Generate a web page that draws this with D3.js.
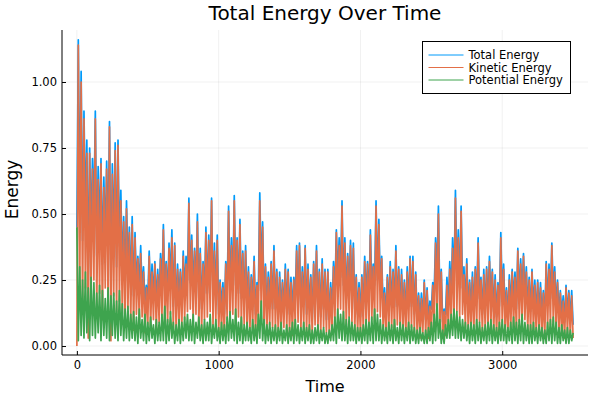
<!DOCTYPE html>
<html>
<head>
<meta charset="utf-8">
<script src="https://cdn.jsdelivr.net/npm/d3@7"></script>
<style>
  body { margin: 0; background: #fff; }
  svg { font-family: "DejaVu Sans", sans-serif; }
</style>
</head>
<body>
<svg id="chart" width="600" height="400"></svg>
<script>
const seriesNames = ["Total Energy", "Kinetic Energy", "Potential Energy"];
const xTicks = [0, 1000, 2000, 3000];
const yTicks = [0, 0.25, 0.5, 0.75, 1.0];

const totalEnergy = [
  0.45,1.16,0.50,1.04,0.40,0.89,0.50,0.78,0.25,0.75,0.44,0.71,0.49,0.89,0.34,0.68,0.43,0.71,0.31,0.64,
  0.40,0.70,0.38,0.85,0.21,0.69,0.39,0.77,0.30,0.78,0.38,0.59,0.28,0.49,0.22,0.55,0.29,0.45,0.22,0.49,
  0.19,0.43,0.23,0.34,0.23,0.38,0.21,0.30,0.17,0.23,0.17,0.36,0.18,0.31,0.18,0.32,0.16,0.29,0.18,0.35,
  0.23,0.46,0.22,0.32,0.19,0.39,0.25,0.44,0.15,0.39,0.13,0.31,0.18,0.29,0.16,0.36,0.21,0.34,0.25,0.56,
  0.24,0.42,0.21,0.37,0.21,0.50,0.18,0.37,0.14,0.32,0.20,0.45,0.20,0.42,0.25,0.56,0.16,0.39,0.19,0.42,
  0.12,0.25,0.15,0.24,0.12,0.32,0.21,0.53,0.21,0.41,0.22,0.57,0.23,0.41,0.20,0.48,0.18,0.36,0.16,0.38,
  0.15,0.30,0.12,0.27,0.17,0.34,0.12,0.24,0.21,0.58,0.29,0.47,0.16,0.31,0.13,0.28,0.17,0.32,0.14,0.38,
  0.14,0.29,0.12,0.28,0.13,0.25,0.13,0.31,0.14,0.29,0.12,0.26,0.13,0.26,0.18,0.38,0.17,0.39,0.13,0.30,
  0.16,0.38,0.12,0.31,0.14,0.27,0.10,0.32,0.15,0.38,0.14,0.29,0.11,0.33,0.14,0.29,0.10,0.29,0.10,0.24,
  0.13,0.32,0.20,0.44,0.26,0.41,0.26,0.55,0.23,0.41,0.18,0.35,0.22,0.40,0.18,0.39,0.14,0.27,0.12,0.24,
  0.11,0.27,0.14,0.34,0.18,0.32,0.16,0.44,0.21,0.31,0.23,0.55,0.25,0.48,0.21,0.34,0.14,0.22,0.11,0.27,
  0.15,0.32,0.15,0.29,0.15,0.38,0.15,0.30,0.15,0.29,0.13,0.25,0.11,0.30,0.15,0.34,0.15,0.34,0.12,0.28,
  0.10,0.20,0.10,0.20,0.10,0.25,0.10,0.22,0.10,0.17,0.14,0.24,0.20,0.41,0.28,0.53,0.16,0.29,0.09,0.14,
  0.12,0.26,0.16,0.32,0.20,0.41,0.24,0.59,0.26,0.44,0.22,0.53,0.22,0.30,0.16,0.33,0.14,0.25,0.14,0.28,
  0.14,0.30,0.17,0.41,0.18,0.26,0.12,0.29,0.14,0.30,0.16,0.34,0.18,0.29,0.13,0.27,0.11,0.24,0.15,0.43,
  0.19,0.31,0.13,0.22,0.11,0.27,0.15,0.29,0.18,0.28,0.14,0.37,0.19,0.33,0.20,0.35,0.19,0.30,0.14,0.26,
  0.13,0.29,0.15,0.25,0.11,0.25,0.13,0.24,0.11,0.21,0.09,0.32,0.16,0.31,0.18,0.39,0.20,0.30,0.15,0.25,
  0.12,0.21,0.12,0.19,0.09,0.23,0.12,0.21,0.10,0.21,0.08
];

const kineticEnergy = [
  0.00,1.14,0.20,1.00,0.15,0.86,0.22,0.73,0.03,0.73,0.18,0.67,0.25,0.86,0.14,0.63,0.20,0.69,0.10,0.60,
  0.22,0.67,0.16,0.83,0.02,0.65,0.19,0.74,0.13,0.76,0.17,0.55,0.12,0.47,0.08,0.52,0.14,0.43,0.10,0.46,
  0.06,0.41,0.12,0.33,0.09,0.35,0.11,0.28,0.05,0.22,0.08,0.34,0.07,0.28,0.10,0.31,0.06,0.27,0.09,0.33,
  0.11,0.44,0.07,0.31,0.09,0.37,0.12,0.41,0.06,0.38,0.05,0.29,0.08,0.28,0.07,0.34,0.10,0.31,0.13,0.54,
  0.14,0.40,0.09,0.36,0.12,0.47,0.07,0.35,0.06,0.31,0.10,0.43,0.11,0.40,0.13,0.55,0.08,0.36,0.09,0.40,
  0.05,0.24,0.06,0.22,0.04,0.31,0.10,0.51,0.08,0.38,0.12,0.55,0.09,0.40,0.11,0.46,0.07,0.35,0.08,0.36,
  0.06,0.28,0.05,0.26,0.07,0.32,0.04,0.23,0.09,0.55,0.12,0.45,0.06,0.30,0.05,0.26,0.08,0.31,0.07,0.36,
  0.06,0.28,0.05,0.26,0.04,0.24,0.07,0.29,0.06,0.28,0.05,0.24,0.04,0.25,0.08,0.36,0.09,0.38,0.06,0.28,
  0.07,0.37,0.05,0.29,0.06,0.26,0.04,0.31,0.08,0.36,0.06,0.28,0.05,0.31,0.07,0.28,0.05,0.28,0.04,0.22,
  0.05,0.30,0.09,0.43,0.12,0.38,0.14,0.53,0.10,0.39,0.08,0.34,0.11,0.38,0.09,0.37,0.06,0.26,0.05,0.22,
  0.04,0.26,0.06,0.32,0.08,0.31,0.07,0.42,0.10,0.30,0.09,0.53,0.13,0.46,0.11,0.33,0.06,0.20,0.04,0.26,
  0.06,0.30,0.07,0.28,0.05,0.36,0.08,0.29,0.06,0.27,0.05,0.24,0.04,0.28,0.06,0.33,0.07,0.32,0.05,0.27,
  0.04,0.19,0.03,0.18,0.05,0.24,0.04,0.21,0.03,0.15,0.05,0.23,0.08,0.39,0.12,0.50,0.06,0.28,0.03,0.13,
  0.04,0.23,0.06,0.29,0.08,0.37,0.10,0.56,0.13,0.41,0.11,0.51,0.12,0.27,0.07,0.31,0.06,0.24,0.05,0.26,
  0.06,0.29,0.07,0.39,0.09,0.25,0.05,0.27,0.06,0.29,0.07,0.32,0.08,0.28,0.05,0.25,0.04,0.23,0.06,0.41,
  0.09,0.29,0.05,0.21,0.04,0.25,0.06,0.28,0.07,0.26,0.05,0.36,0.09,0.31,0.08,0.34,0.10,0.28,0.06,0.25,
  0.05,0.28,0.06,0.23,0.04,0.24,0.05,0.22,0.04,0.20,0.03,0.31,0.07,0.29,0.08,0.38,0.09,0.28,0.06,0.24,
  0.05,0.20,0.04,0.17,0.03,0.22,0.05,0.20,0.04,0.19,0.03
];

const potentialEnergy = [
  0.45,0.02,0.30,0.04,0.25,0.03,0.28,0.05,0.22,0.02,0.26,0.04,0.24,0.03,0.20,0.05,0.23,0.02,0.21,0.04,
  0.18,0.03,0.22,0.02,0.19,0.04,0.20,0.03,0.17,0.02,0.21,0.04,0.16,0.02,0.14,0.03,0.15,0.02,0.12,0.03,
  0.13,0.02,0.11,0.01,0.14,0.03,0.10,0.02,0.12,0.01,0.09,0.02,0.11,0.03,0.08,0.01,0.10,0.02,0.09,0.02,
  0.12,0.02,0.15,0.01,0.10,0.02,0.13,0.03,0.09,0.01,0.08,0.02,0.10,0.01,0.09,0.02,0.11,0.03,0.12,0.02,
  0.10,0.02,0.12,0.01,0.09,0.03,0.11,0.02,0.08,0.01,0.10,0.02,0.09,0.02,0.12,0.01,0.08,0.03,0.10,0.02,
  0.07,0.01,0.09,0.02,0.08,0.01,0.11,0.02,0.13,0.03,0.10,0.02,0.14,0.01,0.09,0.02,0.11,0.01,0.08,0.02,
  0.09,0.02,0.07,0.01,0.10,0.02,0.08,0.01,0.12,0.03,0.17,0.02,0.10,0.01,0.08,0.02,0.09,0.01,0.07,0.02,
  0.08,0.01,0.07,0.02,0.09,0.01,0.06,0.02,0.08,0.01,0.07,0.02,0.09,0.01,0.10,0.02,0.08,0.01,0.07,0.02,
  0.09,0.01,0.07,0.02,0.08,0.01,0.06,0.01,0.07,0.02,0.08,0.01,0.06,0.02,0.07,0.01,0.05,0.01,0.06,0.02,
  0.08,0.02,0.11,0.01,0.14,0.03,0.12,0.02,0.13,0.02,0.10,0.01,0.11,0.02,0.09,0.02,0.08,0.01,0.07,0.02,
  0.07,0.01,0.08,0.02,0.10,0.01,0.09,0.02,0.11,0.01,0.14,0.02,0.12,0.02,0.10,0.01,0.08,0.02,0.07,0.01,
  0.09,0.02,0.08,0.01,0.10,0.02,0.07,0.01,0.09,0.02,0.08,0.01,0.07,0.02,0.09,0.01,0.08,0.02,0.07,0.01,
  0.06,0.01,0.07,0.02,0.05,0.01,0.06,0.01,0.07,0.02,0.09,0.01,0.12,0.02,0.16,0.03,0.10,0.01,0.06,0.01,
  0.08,0.03,0.10,0.03,0.12,0.04,0.14,0.03,0.13,0.03,0.11,0.02,0.10,0.03,0.09,0.02,0.08,0.01,0.09,0.02,
  0.08,0.01,0.10,0.02,0.09,0.01,0.07,0.02,0.08,0.01,0.09,0.02,0.10,0.01,0.08,0.02,0.07,0.01,0.09,0.02,
  0.10,0.02,0.08,0.01,0.07,0.02,0.09,0.01,0.11,0.02,0.09,0.01,0.10,0.02,0.12,0.01,0.09,0.02,0.08,0.01,
  0.08,0.01,0.09,0.02,0.07,0.01,0.08,0.02,0.07,0.01,0.06,0.01,0.09,0.02,0.10,0.01,0.11,0.02,0.09,0.01,
  0.07,0.01,0.08,0.02,0.06,0.01,0.07,0.01,0.06,0.02,0.05
];

const timeSteps = d3.range(0, 3501, 10);
const couleurs = ["#009afa", "#e36f47", "#3ea44e"];
const series = [totalEnergy, kineticEnergy, potentialEnergy];

const svg = d3.select("#chart");
const gauche = 62, droite = 588, haut = 30, bas = 355;

const x = d3.scaleLinear().domain([-105, 3605]).range([gauche, droite]);
const y = d3.scaleLinear().domain([-0.034, 1.197]).range([bas, haut]);

// grille
svg.append("g").selectAll("line")
  .data(xTicks).join("line")
  .attr("x1", d => x(d)).attr("x2", d => x(d))
  .attr("y1", haut).attr("y2", bas)
  .attr("stroke", "#000").attr("stroke-opacity", 0.1).attr("stroke-width", 0.6);
svg.append("g").selectAll("line")
  .data(yTicks).join("line")
  .attr("x1", gauche).attr("x2", droite)
  .attr("y1", d => y(d)).attr("y2", d => y(d))
  .attr("stroke", "#000").attr("stroke-opacity", 0.1).attr("stroke-width", 0.6);

// courbes
const ligne = d3.line()
  .x((d, i) => x(timeSteps[i]))
  .y(d => y(d));

svg.append("g").selectAll("path")
  .data(series).join("path")
  .attr("d", d => ligne(d))
  .attr("fill", "none")
  .attr("stroke", (d, i) => couleurs[i])
  .attr("stroke-width", 1.7)
  .attr("stroke-linejoin", "round");

// axes
const axeX = svg.append("g")
  .attr("transform", `translate(0,${bas})`)
  .call(d3.axisBottom(x).tickValues(xTicks).tickFormat(d3.format("d")).tickSizeInner(-4).tickSizeOuter(0).tickPadding(6));
const axeY = svg.append("g")
  .attr("transform", `translate(${gauche},0)`)
  .call(d3.axisLeft(y).tickValues(yTicks).tickFormat(d3.format(".2f")).tickSizeInner(-4).tickSizeOuter(0).tickPadding(5));

[axeX, axeY].forEach(a => {
  a.select(".domain").attr("stroke", "#000").attr("stroke-width", 1);
  a.selectAll(".tick line").attr("stroke", "#000");
  a.selectAll(".tick text").attr("fill", "#000").style("font-size", "11.5px").style("font-family", "DejaVu Sans");
});
// le domaine de l'axe X doit couvrir toute la largeur
axeX.select(".domain").attr("d", `M${gauche},0H${droite}`);
axeY.select(".domain").attr("d", `M0,${bas}V${haut}`);

// titres
svg.append("text")
  .attr("x", (gauche + droite) / 2).attr("y", 20)
  .attr("text-anchor", "middle")
  .style("font-size", "20px")
  .text("Total Energy Over Time");

svg.append("text")
  .attr("x", (gauche + droite) / 2).attr("y", 392)
  .attr("text-anchor", "middle")
  .style("font-size", "16px")
  .text("Time");

svg.append("text")
  .attr("transform", `translate(18,${(haut + bas) / 2 - 3}) rotate(-90)`)
  .attr("text-anchor", "middle")
  .style("font-size", "17px")
  .text("Energy");

// légende
const legende = svg.append("g").attr("transform", "translate(422.5,41.5)");
legende.append("rect")
  .attr("width", 148).attr("height", 52)
  .attr("fill", "#fff").attr("stroke", "#000").attr("stroke-width", 1);
const items = legende.selectAll(".item")
  .data(seriesNames).join("g")
  .attr("class", "item")
  .attr("transform", (d, i) => `translate(0,${13.5 + i * 12.5})`);
items.append("line")
  .attr("x1", 6).attr("x2", 41)
  .attr("stroke", (d, i) => couleurs[i]).attr("stroke-width", 1);
items.append("text")
  .attr("x", 46).attr("y", 4)
  .style("font-size", "11.5px")
  .text(d => d);
</script>
</body>
</html>
